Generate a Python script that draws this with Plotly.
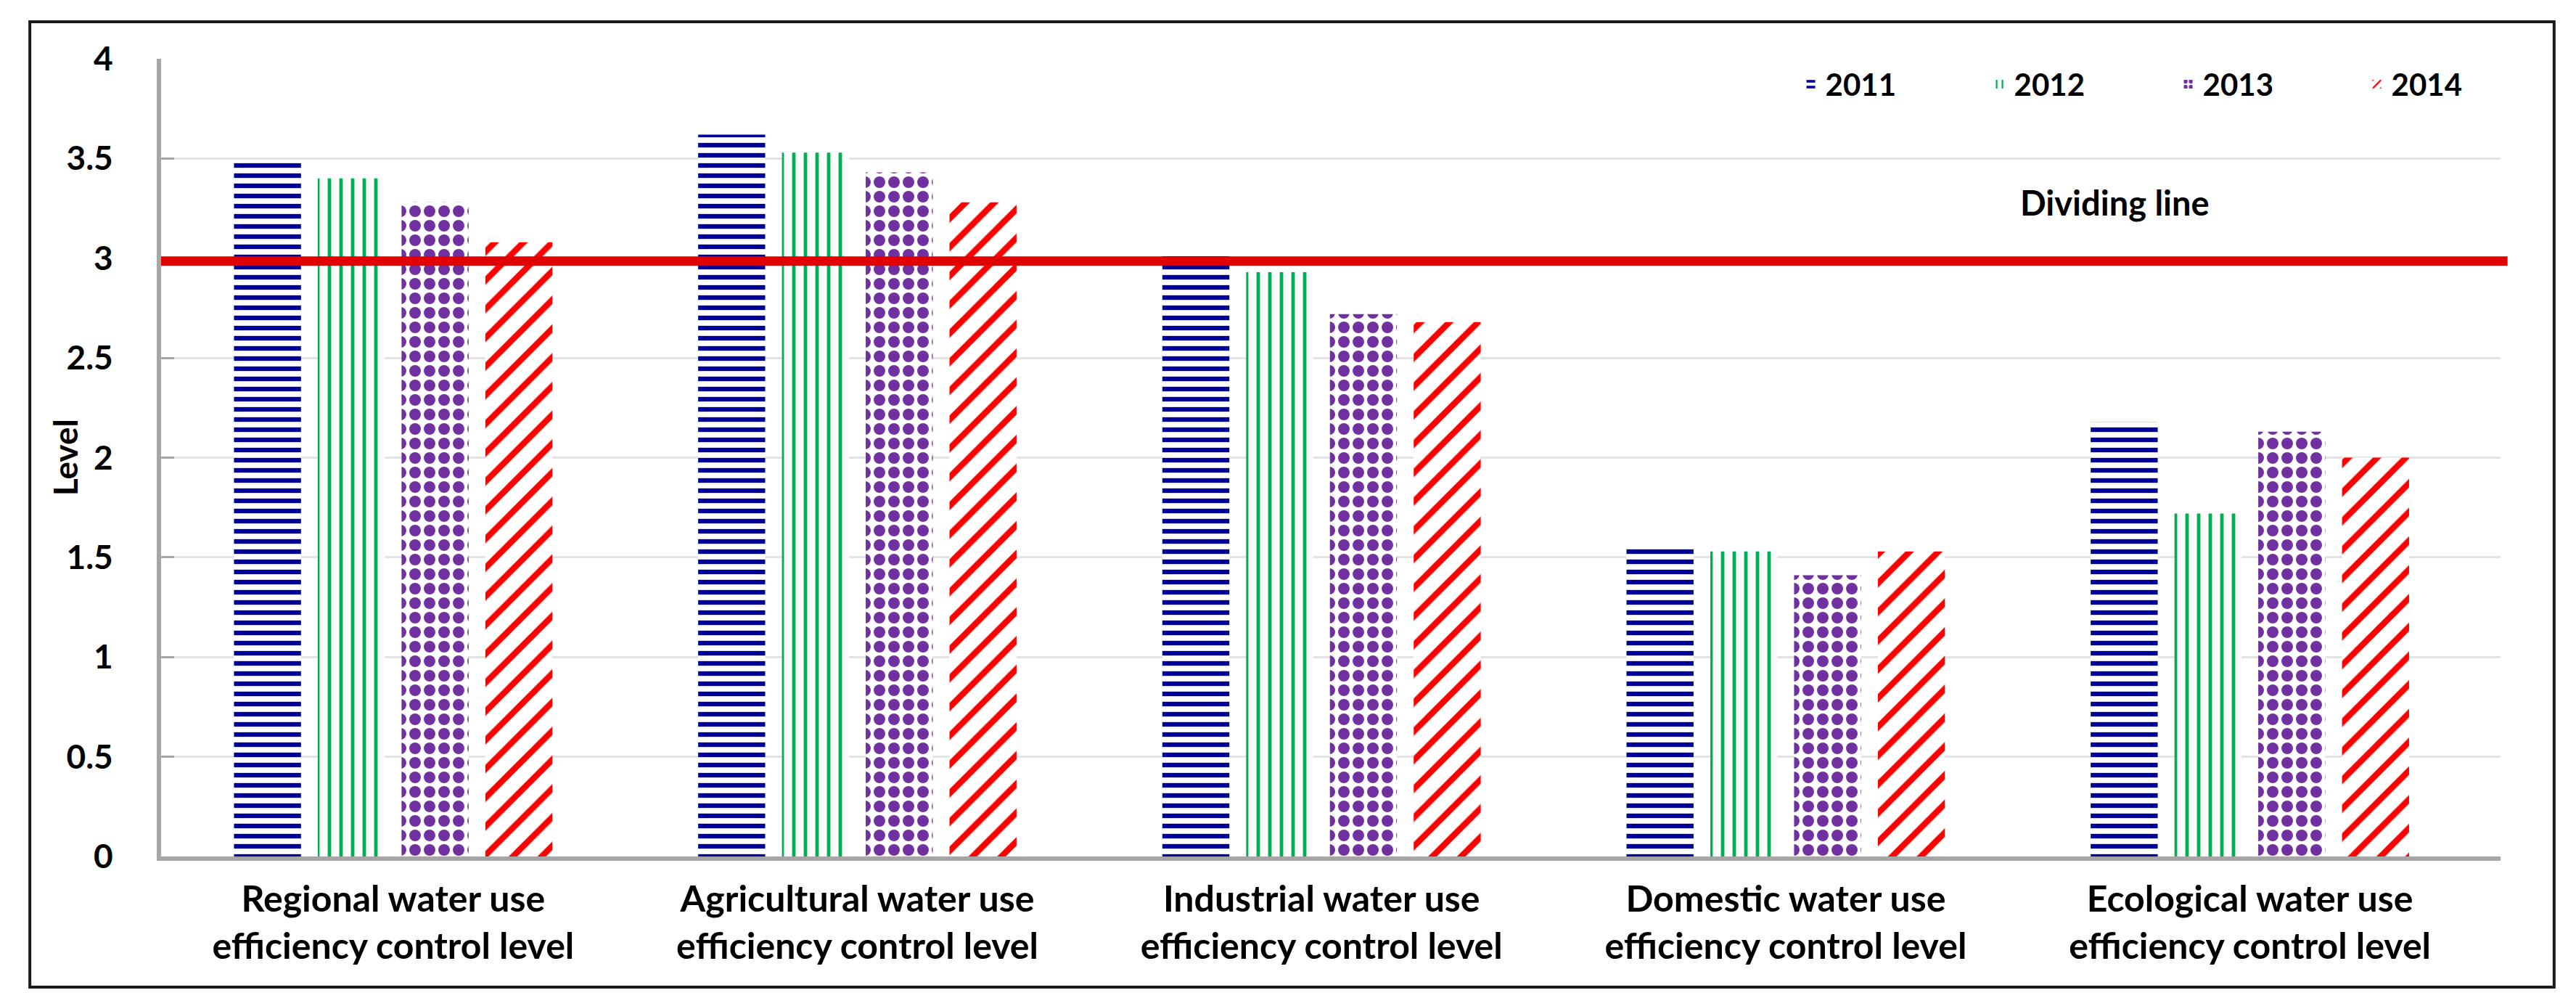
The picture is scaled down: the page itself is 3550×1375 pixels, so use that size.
"""
Water use efficiency control levels, 2011-2014, grouped patterned bars
with a red dividing line at level 3.
"""

import plotly.graph_objects as go

# ── Data ──────────────────────────────────────────────────────────────────────
categories = ["Regional", "Agricultural", "Industrial", "Domestic", "Ecological"]
tick_labels = [f"{c} water use<br>efficiency control level" for c in categories]

years = ["2011", "2012", "2013", "2014"]
level_2011 = [3.48, 3.62, 3.01, 1.55, 2.18]
level_2012 = [3.40, 3.53, 2.93, 1.53, 1.72]
level_2013 = [3.28, 3.43, 2.72, 1.41, 2.13]
level_2014 = [3.08, 3.28, 2.68, 1.53, 2.00]

dividing_level = 2.985
y_ticks = [0, 0.5, 1, 1.5, 2, 2.5, 3, 3.5, 4]

# ── Styles ────────────────────────────────────────────────────────────────────
styles = {
    "2011": dict(shape="-", color="#000099", size=14, solidity=0.45),
    "2012": dict(shape="|", color="#00B050", size=16, solidity=0.3),
    "2013": dict(shape=".", color="#7030A0", size=20, solidity=0.5),
    "2014": dict(shape="/", color="#FF0000", size=28, solidity=0.3),
}
LABEL_FONT = "Lato, Carlito, Calibri, sans-serif"

fig = go.Figure()

for year, vals in zip(years, [level_2011, level_2012, level_2013, level_2014]):
    st = styles[year]
    fig.add_trace(go.Bar(
        x=categories, y=vals, name=year,
        marker=dict(
            color=st["color"],
            line=dict(width=0),
            pattern=dict(shape=st["shape"], fgcolor=st["color"], bgcolor="white",
                         fgopacity=1, size=st["size"], solidity=st["solidity"]),
        ),
    ))

# ── Dividing line + label ─────────────────────────────────────────────────────
fig.add_shape(type="line", xref="paper", yref="y",
              x0=0, x1=1.003, y0=dividing_level, y1=dividing_level,
              line=dict(color="#E00000", width=13))
fig.add_annotation(text="Dividing line", xref="paper", yref="y",
                   x=0.835, y=3.28, xanchor="center", yanchor="middle", showarrow=False,
                   font=dict(family=LABEL_FONT, size=47, color="black", weight="bold"))

# y-axis title drawn as an annotation so it can sit close to the tick labels
fig.add_annotation(text="Level", xref="paper", yref="paper",
                   x=-0.041, y=0.5, xanchor="center", yanchor="middle",
                   textangle=-90, showarrow=False,
                   font=dict(family=LABEL_FONT, size=46, color="black", weight="bold"))

# outer frame
fig.add_shape(type="rect", xref="paper", yref="paper",
              x0=-0.0561, x1=1.0229, y0=-0.1638, y1=1.0464,
              line=dict(color="#1a1a1a", width=4))

# ── Layout ────────────────────────────────────────────────────────────────────
fig.update_layout(
    width=3550, height=1375,
    margin=dict(l=214, r=112, t=73, b=203),
    paper_bgcolor="white", plot_bgcolor="white",
    barmode="group", bargap=0.278, bargroupgap=0.2,
    showlegend=True,
    legend=dict(orientation="h", x=0.699, xanchor="left", y=0.968, yanchor="middle",
                bgcolor="rgba(0,0,0,0)", entrywidth=215, entrywidthmode="pixels",
                font=dict(family=LABEL_FONT, size=42, color="black", weight="bold")),
    xaxis=dict(
        type="category", tickmode="array", tickvals=categories, ticktext=tick_labels,
        range=[-0.5, 4.54],
        tickfont=dict(family=LABEL_FONT, size=50, color="black", weight="bold"),
        showline=True, linecolor="#A6A6A6", linewidth=6,
        showgrid=False, ticks="", ticklabelstandoff=10,
    ),
    yaxis=dict(
        range=[0, 4], tickvals=y_ticks, ticktext=[f"{v:g}" for v in y_ticks],
        tickfont=dict(family=LABEL_FONT, size=46, color="black", weight="bold"),
        showline=True, linecolor="#A6A6A6", linewidth=6,
        showgrid=True, gridcolor="#E3E3E3", gridwidth=3,
        ticks="inside", ticklen=18, tickcolor="#A6A6A6", tickwidth=3,
        ticklabelstandoff=51, zeroline=False,
    ),
)

fig.write_html("out.html")
